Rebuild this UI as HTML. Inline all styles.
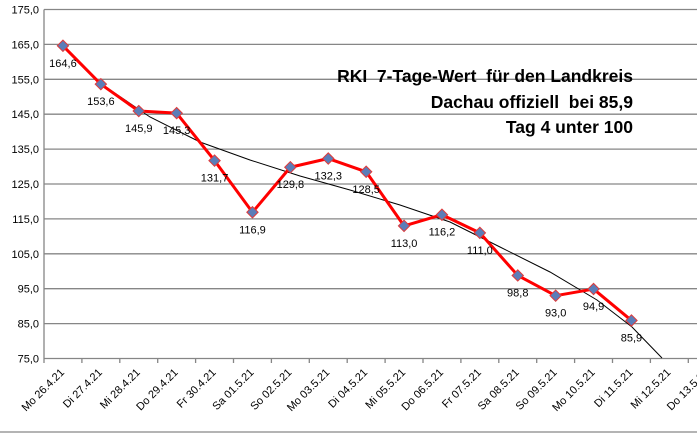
<!DOCTYPE html>
<html><head><meta charset="utf-8"><style>
html,body{margin:0;padding:0;background:#fff;}
svg{display:block;font-family:"Liberation Sans",sans-serif;}
</style></head><body>
<svg width="697" height="433" viewBox="0 0 697 433" xmlns="http://www.w3.org/2000/svg">
<rect width="697" height="433" fill="#fff"/>
<g stroke="#868686" stroke-width="1.3">
<line x1="44" y1="9.5" x2="697" y2="9.5"/>
<line x1="44" y1="44.4" x2="697" y2="44.4"/>
<line x1="44" y1="79.3" x2="697" y2="79.3"/>
<line x1="44" y1="114.2" x2="697" y2="114.2"/>
<line x1="44" y1="149.1" x2="697" y2="149.1"/>
<line x1="44" y1="184" x2="697" y2="184"/>
<line x1="44" y1="218.9" x2="697" y2="218.9"/>
<line x1="44" y1="253.8" x2="697" y2="253.8"/>
<line x1="44" y1="288.7" x2="697" y2="288.7"/>
<line x1="44" y1="323.6" x2="697" y2="323.6"/>
<line x1="44" y1="358.5" x2="697" y2="358.5"/>
<line x1="44" y1="9.5" x2="44" y2="358.5"/>
<line x1="0" y1="432" x2="697" y2="432"/>
</g>
<g stroke="#868686" stroke-width="1.3" id="ticks"></g>
<g font-size="11" fill="#000" text-anchor="end">
<text x="39" y="13.5">175,0</text><text x="39" y="48.4">165,0</text><text x="39" y="83.3">155,0</text>
<text x="39" y="118.2">145,0</text><text x="39" y="153.1">135,0</text><text x="39" y="188">125,0</text>
<text x="39" y="222.9">115,0</text><text x="39" y="257.8">105,0</text><text x="39" y="292.7">95,0</text>
<text x="39" y="327.6">85,0</text><text x="39" y="362.5">75,0</text>
</g>
<polyline fill="none" stroke="#000" stroke-width="1" points="63,47 100,83 150,117 200,142 250,160 300,176 350,190 400,205 450,222 500,247 550,272 597,300 632,327 662,358"/>
<g id="data"></g>
<g font-size="17.5" font-weight="bold" text-anchor="end" fill="#000">
<text x="633" y="82">RKI&#160; 7-Tage-Wert&#160; für den Landkreis</text>
<text x="633" y="108">Dachau offiziell&#160; bei 85,9</text>
<text x="633" y="133">Tag 4 unter 100</text>
</g>
<script>
var vals=[164.6,153.6,145.9,145.3,131.7,116.9,129.8,132.3,128.5,113.0,116.2,111.0,98.8,93.0,94.9,85.9];
var labs=["Mo 26.4.21","Di 27.4.21","Mi 28.4.21","Do 29.4.21","Fr 30.4.21","Sa 01.5.21","So 02.5.21","Mo 03.5.21","Di 04.5.21","Mi 05.5.21","Do 06.5.21","Fr 07.5.21","Sa 08.5.21","So 09.5.21","Mo 10.5.21","Di 11.5.21","Mi 12.5.21","Do 13.5.21"];
var ns="http://www.w3.org/2000/svg",W=37.9;
function el(t,a,p){var e=document.createElementNS(ns,t);for(var k in a)e.setAttribute(k,a[k]);p.appendChild(e);return e;}
var tk=document.getElementById("ticks"),svg=document.querySelector("svg"),d=document.getElementById("data");
for(var k=0;k<=18;k++){var x=44+k*W;el("line",{x1:x,y1:358.5,x2:x,y2:363},tk);}
labs.forEach(function(l,i){var cx=44+(i+0.5)*W+2;var t=el("text",{x:cx,y:373,"font-size":"11","text-anchor":"end",transform:"rotate(-45 "+cx+" 373)"},svg);t.textContent=l;});
var pts=vals.map(function(v,i){return [44+(i+0.5)*W,9.5+(175-v)*3.49];});
el("polyline",{points:pts.map(function(p){return p.join(",")}).join(" "),fill:"none",stroke:"#ff0000","stroke-width":"3","stroke-linejoin":"round"},d);
pts.forEach(function(p,i){el("rect",{x:p[0]-4,y:p[1]-4,width:8,height:8,fill:"#5b7db8",stroke:"#e03a3a","stroke-width":"1",transform:"rotate(45 "+p[0]+" "+p[1]+")"},d);
var t=el("text",{x:p[0],y:p[1]+21,"font-size":"11","text-anchor":"middle"},d);t.textContent=vals[i].toFixed(1).replace(".",",");});
</script>
</svg>
</body></html>
